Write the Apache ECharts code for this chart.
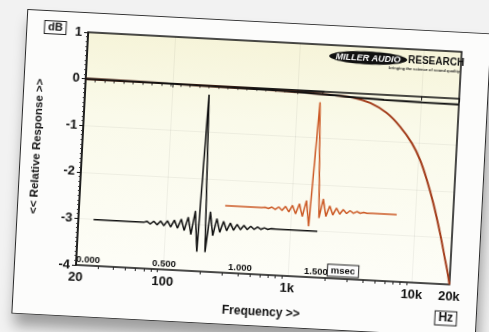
<!DOCTYPE html>
<html>
<head>
<meta charset="utf-8">
<title>Relative Response</title>
<script src="https://cdn.jsdelivr.net/npm/echarts@6/dist/echarts.min.js"></script>
<style>
html, body { margin: 0; padding: 0; width: 489px; height: 332px; overflow: hidden; background: #f2f2f2; }
#paper { position: absolute; left: 19px; top: 21px; width: 463px; height: 303px; border: 1px solid #2a2a2a; background: #fcfcfb; transform: rotate(3deg); box-shadow: 3px 12px 14px rgba(0,0,0,0.35); }
#chart { width: 463px; height: 303px; }
</style>
</head>
<body>
<div id="paper"><div id="chart"></div></div>
<script>
// 频响 (Hz, dB)
var blackFreq = [20, 100, 500, 1000, 2000, 3000, 5000, 10000, 20000];
var blackResp = [0, -0.01, -0.03, -0.045, -0.075, -0.1, -0.115, -0.125, -0.13];
var orangeFreq = [20, 100, 500, 1000, 2000, 2800, 3900, 5300, 6900, 8700, 10300, 11900, 13700, 16000, 18000, 19000, 20000];
var orangeResp = [0, -0.01, -0.03, -0.045, -0.075, -0.1, -0.2, -0.39, -0.67, -1.01, -1.36, -1.78, -2.27, -2.91, -3.47, -3.72, -4.0];

// 冲激响应 (msec, 画在dB坐标上)
var blackImpT = [0.10, 0.43, 0.4515, 0.474, 0.4965, 0.519, 0.5415, 0.564, 0.5865, 0.609, 0.6315, 0.654, 0.6765, 0.699, 0.7215, 0.744, 0.7665, 0.789,
	0.816, 0.843, 0.8655, 0.888, 0.9105, 0.933, 0.9555, 0.978, 1.0005, 1.023, 1.0455, 1.068, 1.0905, 1.113, 1.1355, 1.158, 1.1805, 1.203, 1.2255, 1.248, 1.2705, 1.30, 1.574];
var blackImpV = [-3.01, -3.01, -2.985, -3.04, -2.975, -3.05, -2.965, -3.06, -2.95, -3.08, -2.93, -3.10, -2.90, -3.14, -2.85, -3.22, -2.71, -3.58,
	-0.20, -3.58, -2.71, -3.22, -2.85, -3.14, -2.90, -3.10, -2.93, -3.08, -2.95, -3.06, -2.965, -3.05, -2.975, -3.04, -2.985, -3.03, -2.995, -3.022, -3.002, -3.01, -3.01];
var orangeImpT = [0.96, 1.20, 1.2225, 1.245, 1.2675, 1.29, 1.3125, 1.335, 1.3575, 1.38, 1.4025, 1.425, 1.4475, 1.47, 1.4925, 1.515,
	1.548, 1.580, 1.6025, 1.625, 1.6475, 1.67, 1.6925, 1.715, 1.7375, 1.76, 1.7825, 1.805, 1.8275, 1.85, 1.8725, 1.895, 1.93, 2.09];
var orangeImpV = [-2.56, -2.56, -2.552, -2.572, -2.542, -2.585, -2.53, -2.60, -2.51, -2.625, -2.48, -2.66, -2.44, -2.71, -2.36, -2.91,
	-0.24, -2.72, -2.31, -2.68, -2.45, -2.64, -2.49, -2.615, -2.515, -2.595, -2.53, -2.582, -2.542, -2.572, -2.55, -2.566, -2.56, -2.56];

// 刻度
var freqMinorTicks = [30, 40, 50, 60, 70, 80, 90, 200, 300, 400, 500, 600, 700, 800, 900, 2000, 3000, 4000, 5000, 6000, 7000, 8000, 9000];
var timeLabels = [0, 0.5, 1, 1.5];
var timeTicks = [0, 0.0625, 0.125, 0.1875, 0.25, 0.3125, 0.375, 0.4375, 0.5, 0.5625, 0.625, 0.6875, 0.75, 0.8125, 0.875, 0.9375,
	1, 1.0625, 1.125, 1.1875, 1.25, 1.3125, 1.375, 1.4375, 1.5, 1.5625];

var FONT = 'Arial, "Liberation Sans", sans-serif';
var PX_PER_MS = 152; // 时间轴比例

var respChart = {
	init: function() {
		var chart = echarts.init(document.getElementById('chart'));
		chart.setOption(this.buildOption());
	},
	pairs: function(xs, ys) {
		var out = [];
		for (var i = 0; i < xs.length; i++) {
			out.push([xs[i], ys[i]]);
		}
		return out;
	},
	boxText: function(x, y, text, size) {
		return {
			type: 'text',
			x: x,
			y: y,
			z: 100,
			style: {
				text: text,
				font: 'bold ' + size + 'px ' + FONT,
				fill: '#111',
				align: 'center',
				verticalAlign: 'middle',
				backgroundColor: '#fdfdfd',
				borderColor: '#222',
				borderWidth: 1,
				padding: [1, 3, 0, 3]
			}
		};
	},
	buildOption: function() {
		var labelStyle = { color: '#111', fontWeight: 'bold', fontSize: 13, fontFamily: FONT };
		var plotW = 374;
		return {
			animation: false,
			grid: [{
				left: 61, top: 19, width: plotW, height: 233,
				show: true,
				borderColor: '#111',
				borderWidth: 1.5,
				backgroundColor: new echarts.graphic.LinearGradient(0, 0, 0, 1, [
					{ offset: 0, color: '#f6f4d9' },
					{ offset: 0.35, color: '#fafaea' },
					{ offset: 1, color: '#fdfdf7' }
				])
			}, {
				// 可见时间轴 (msec)
				left: 61, top: 19, width: 1.57 * PX_PER_MS, height: 233,
				show: false
			}, {
				// 冲激曲线用, 覆盖整个绘图区
				left: 61, top: 19, width: plotW, height: 233,
				show: false
			}],
			xAxis: [{
				type: 'log',
				gridIndex: 0,
				min: 20,
				max: 20000,
				name: 'Frequency >>',
				nameLocation: 'middle',
				nameGap: 32,
				nameTextStyle: { color: '#111', fontWeight: 'bold', fontSize: 12, fontFamily: FONT },
				axisLine: { lineStyle: { color: '#111', width: 1.5 } },
				axisTick: { length: 4, lineStyle: { color: '#111' } },
				axisLabel: Object.assign({
					margin: 6,
					formatter: function(v) {
						v = Math.round(v);
						return v >= 1000 ? (v / 1000) + 'k' : String(v);
					}
				}, labelStyle),
				splitLine: { show: true, lineStyle: { color: 'rgba(0,0,0,0.05)' } }
			}, {
				// 对数小刻度
				type: 'log',
				gridIndex: 0,
				position: 'bottom',
				min: 20,
				max: 20000,
				axisLine: { show: false },
				axisLabel: { show: false },
				axisTick: { length: 3, customValues: freqMinorTicks, lineStyle: { color: '#222' } },
				splitLine: { show: false }
			}, {
				type: 'value',
				gridIndex: 1,
				position: 'bottom',
				offset: -15,
				min: 0,
				max: 1.57,
				axisLine: { lineStyle: { color: '#111', width: 1.5 } },
				axisTick: { length: 3, customValues: timeTicks, lineStyle: { color: '#222' } },
				axisLabel: {
					customValues: timeLabels,
					margin: 4,
					align: 'left',
					color: '#111',
					fontWeight: 'bold',
					fontSize: 9.5,
					fontFamily: FONT,
					formatter: function(v) { return v.toFixed(3); }
				},
				splitLine: { show: false }
			}, {
				type: 'value',
				gridIndex: 2,
				min: 0,
				max: plotW / PX_PER_MS,
				show: false
			}],
			yAxis: [{
				type: 'value',
				gridIndex: 0,
				min: -4,
				max: 1,
				interval: 1,
				name: '<< Relative Response >>',
				nameLocation: 'middle',
				nameGap: 39,
				nameTextStyle: { color: '#111', fontWeight: 'bold', fontSize: 11.5, fontFamily: FONT },
				axisLine: { show: true, lineStyle: { color: '#111', width: 1.5 } },
				axisTick: { show: true, length: 4, lineStyle: { color: '#111' } },
				minorTick: { show: true, splitNumber: 10, length: 2, lineStyle: { color: '#333' } },
				axisLabel: Object.assign({ margin: 6 }, labelStyle),
				splitLine: { show: true, lineStyle: { color: 'rgba(0,0,0,0.05)' } }
			}, {
				type: 'value',
				gridIndex: 1,
				min: -4,
				max: 1,
				show: false
			}, {
				type: 'value',
				gridIndex: 2,
				min: -4,
				max: 1,
				show: false
			}],
			series: [{
				name: 'orange response',
				type: 'line',
				xAxisIndex: 0,
				yAxisIndex: 0,
				data: this.pairs(orangeFreq, orangeResp),
				smooth: 0.3,
				symbol: 'none',
				lineStyle: { color: '#a23b19', width: 2 },
				z: 3
			}, {
				name: 'black response',
				type: 'line',
				xAxisIndex: 0,
				yAxisIndex: 0,
				data: this.pairs(blackFreq, blackResp),
				smooth: true,
				symbol: 'none',
				lineStyle: { color: '#111', width: 2 },
				z: 4
			}, {
				name: 'black impulse',
				type: 'line',
				xAxisIndex: 3,
				yAxisIndex: 2,
				data: this.pairs(blackImpT, blackImpV),
				symbol: 'none',
				lineStyle: { color: '#111', width: 1.5 },
				z: 5
			}, {
				name: 'orange impulse',
				type: 'line',
				xAxisIndex: 3,
				yAxisIndex: 2,
				data: this.pairs(orangeImpT, orangeImpV),
				symbol: 'none',
				lineStyle: { color: '#cc5a26', width: 1.5 },
				z: 5
			}],
			graphic: [
				this.boxText(28, 16, 'dB', 11),
				this.boxText(433, 286, 'Hz', 12),
				this.boxText(328, 244, 'msec', 9.5),
				{
					// MILLER AUDIO RESEARCH 标志
					type: 'ellipse',
					shape: { cx: 342, cy: 30, rx: 39, ry: 6.5 },
					style: { fill: '#111' },
					z: 100
				}, {
					type: 'text',
					x: 342,
					y: 30.5,
					z: 101,
					style: { text: 'MILLER AUDIO', font: 'italic bold 9px ' + FONT, fill: '#fff', align: 'center', verticalAlign: 'middle' }
				}, {
					type: 'text',
					x: 382,
					y: 30.5,
					z: 101,
					style: { text: 'RESEARCH', font: '900 10px ' + FONT, fill: '#111', align: 'left', verticalAlign: 'middle' }
				}, {
					type: 'text',
					x: 434,
					y: 39,
					z: 101,
					style: { text: 'bringing the science of sound quality', font: 'bold 4px ' + FONT, fill: '#222', align: 'right', verticalAlign: 'middle' }
				}
			]
		};
	}
};

respChart.init();
</script>
</body>
</html>
